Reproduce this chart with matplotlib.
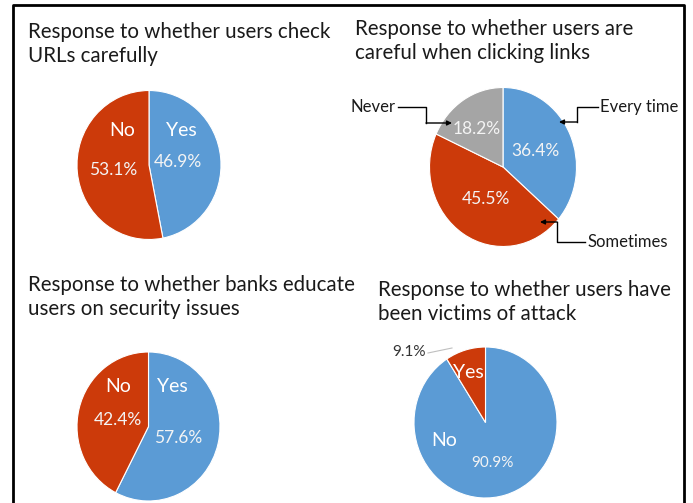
import matplotlib
matplotlib.use("Agg")
import matplotlib.pyplot as plt

plt.rcParams['font.family'] = ['Lato', 'DejaVu Sans']

W, H = 693, 503

BLUE = '#5B9BD5'
RED = '#CC3A0A'
GRAY = '#A5A5A5'

# data
urls_labels = ['Yes', 'No']
urls_values = [46.9, 53.1]

links_labels = ['Every time', 'Sometimes', 'Never']
links_values = [36.4, 45.5, 18.2]

banks_labels = ['Yes', 'No']
banks_values = [57.6, 42.4]

victims_labels = ['No', 'Yes']
victims_values = [90.9, 9.1]

fig = plt.figure(figsize=(W / 100, H / 100), dpi=100)


def pie_axes(cx, cy, rx, ry, values, colors):
    ax = fig.add_axes([(cx - rx) / W, (H - cy - ry) / H, 2 * rx / W, 2 * ry / H])
    ax.pie(values, colors=colors, startangle=90, counterclock=False,
           wedgeprops=dict(edgecolor='white', linewidth=0.8))
    ax.set_aspect('auto')
    ax.set_xlim(-1, 1)
    ax.set_ylim(-1, 1)
    ax.axis('off')
    return ax


pie_axes(149, 165, 72, 74.5, urls_values, [BLUE, RED])
pie_axes(503, 167, 73.5, 79.5, links_values, [BLUE, RED, GRAY])
pie_axes(148.5, 426.5, 71.5, 74.5, banks_values, [BLUE, RED])
pie_axes(485.5, 422.5, 71.5, 75.5, victims_values, [BLUE, RED])

# overlay in pixel coordinates for text, leader lines and frame
ov = fig.add_axes([0, 0, 1, 1], facecolor='none')
ov.set_xlim(0, W)
ov.set_ylim(H, 0)
ov.axis('off')

title_kw = dict(fontsize=14.8, color='#1a1a1a', va='center', ha='left', linespacing=1.28)
ov.text(28, 44, 'Response to whether users check\nURLs carefully', **title_kw)
ov.text(355, 41, 'Response to whether users are\ncareful when clicking links', **title_kw)
ov.text(28, 297, 'Response to whether banks educate\nusers on security issues', **title_kw)
ov.text(378, 302, 'Response to whether users have\nbeen victims of attack', **title_kw)

lab = dict(fontsize=14, color='white', ha='center', va='center')
pct = dict(fontsize=12.5, color='#F4F4F4', ha='center', va='center')

# pie 1
ov.text(122, 130, urls_labels[1], **lab)
ov.text(181, 130, urls_labels[0], **lab)
ov.text(113, 170, f'{urls_values[1]:.1f}%', **pct)
ov.text(178, 162, f'{urls_values[0]:.1f}%', **pct)

# pie 2
ov.text(477, 129, f'{links_values[2]:.1f}%', **pct)
ov.text(535, 151, f'{links_values[0]:.1f}%', **pct)
ov.text(486, 199, f'{links_values[1]:.1f}%', **pct)

out = dict(fontsize=12, color='#1a1a1a', va='center')
ov.text(395, 107, links_labels[2], ha='right', **out)
ov.text(600, 107, links_labels[0], ha='left', **out)
ov.text(587, 242, links_labels[1], ha='left', **out)

arrow = dict(arrowstyle='-|>', lw=1, color='black', mutation_scale=7, shrinkA=0, shrinkB=0)
for pts in [[(398, 107), (426, 107), (426, 123), (452, 123)],
            [(598, 107), (577, 107), (577, 122), (559, 122)],
            [(585, 242), (557, 242), (557, 222), (540, 222)]]:
    xs, ys = zip(*pts[:3])
    ov.plot(xs, ys, color='black', lw=1)
    ov.annotate('', xy=pts[3], xytext=pts[2], arrowprops=arrow)

# pie 3
ov.text(118, 387, banks_labels[1], **lab)
ov.text(172, 387, banks_labels[0], **lab)
ov.text(118, 420, f'{banks_values[1]:.1f}%', **pct)
ov.text(178, 438, f'{banks_values[0]:.1f}%', **pct)

# pie 4
ov.text(468, 373, victims_labels[1], **lab)
ov.text(444, 440, victims_labels[0], **lab)
ov.text(492, 463, f'{victims_values[0]:.1f}%', fontsize=11, color='#F4F4F4', ha='center', va='center')
ov.text(426, 352, f'{victims_values[1]:.1f}%', fontsize=11, color='#333333', ha='right', va='center')
ov.plot([428, 452], [353, 348], color='#BFBFBF', lw=0.8)

# frame
ov.plot([13, 13, 684, 684], [H + 5, 5, 5, H + 5], color='black', lw=2, clip_on=True)

fig.savefig('out.png', dpi=100)
